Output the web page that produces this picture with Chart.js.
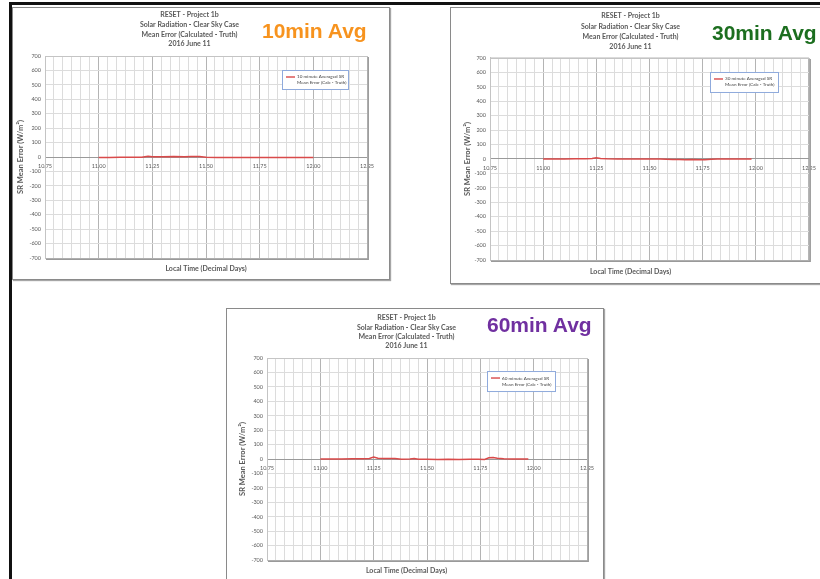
<!DOCTYPE html>
<html>
<head>
<meta charset="utf-8">
<title>SR Mean Error</title>
<script src="https://cdn.jsdelivr.net/npm/chart.js@4.4.1/dist/chart.umd.min.js"></script>
<style>
  html, body { margin: 0; padding: 0; background: #fff; }
  body { width: 820px; height: 579px; position: relative; overflow: hidden; }
  .bar { position: absolute; background: #111; }
  .panel { position: absolute; box-sizing: border-box; background: #fff;
           border: 1.5px solid #8a8a8a; box-shadow: 1px 1px 1px rgba(0,0,0,.35); }
  canvas { position: absolute; }
  .tag { position: absolute; font: bold 21px "Liberation Sans", Arial, sans-serif;
         line-height: 1; white-space: nowrap; }
</style>
</head>
<body>
<div class="bar" style="left:9px; top:2px; width:811px; height:2.5px"></div>
<div class="bar" style="left:9px; top:2px; width:2.5px; height:577px"></div>

<div class="panel" style="left:12px; top:7px; width:378px; height:273px"></div>
<div class="panel" style="left:450px; top:7px; width:380px; height:277px"></div>
<div class="panel" style="left:226px; top:308px; width:378px; height:290px"></div>

<canvas id="c10" width="377" height="272" style="left:12px; top:7px"></canvas>
<canvas id="c30" width="372" height="276" style="left:450px; top:7px"></canvas>
<canvas id="c60" width="377" height="271" style="left:226px; top:308px"></canvas>

<div class="tag" style="left:262px; top:20px; color:#f7931e">10min Avg</div>
<div class="tag" style="left:712px; top:22px; color:#1c6e1f">30min Avg</div>
<div class="tag" style="left:487px; top:314px; color:#7030a0">60min Avg</div>

<script>
// chart text
const titleLines = ["RESET - Project 1b", "Solar Radiation - Clear Sky Case",
                    "Mean Error (Calculated - Truth)", "2016 June 11"];
const xTitle = "Local Time (Decimal Days)";
const yTitle = "SR Mean Error (W/m\u00b2)";

// axis ranges (decimal days, W/m2)
const xMin = 10.75, xMax = 12.25, xMinor = 1 / 24;
const yMin = -700, yMax = 700, yMinor = 50;

// 10 minute averaged series
const time10 = [11.00, 11.05, 11.10, 11.15, 11.20, 11.23, 11.25, 11.30, 11.35, 11.40, 11.43, 11.47,
                11.50, 11.55, 11.60, 11.65, 11.70, 11.75, 11.80, 11.85, 11.90, 11.95, 12.00];
const err10  = [-3, -3, -2, -2, -1, 5, 2, 2, 3, 2, 4, 3,
                -2, -3, -3, -3, -3, -3, -3, -3, -3, -3, -3];

// 30 minute averaged series
const time30 = [11.00, 11.05, 11.10, 11.15, 11.20, 11.23, 11.25, 11.27, 11.30, 11.35, 11.40, 11.45,
                11.50, 11.55, 11.58, 11.61, 11.64, 11.67, 11.70, 11.73, 11.76, 11.79, 11.82, 11.86,
                11.90, 11.95, 11.98];
const err30  = [0, 0, 0, 1, 1, 3, 8, 3, 1, 0, 0, 0,
                0, 0, -2, -4, -3, -5, -3, -5, -6, -2, 0, 0,
                0, 0, 0];

// 60 minute averaged series
const time60 = [11.00, 11.05, 11.10, 11.15, 11.20, 11.23, 11.25, 11.27, 11.30, 11.35, 11.38, 11.42,
                11.44, 11.46, 11.50, 11.55, 11.60, 11.65, 11.70, 11.74, 11.77, 11.79, 11.81, 11.83,
                11.86, 11.90, 11.94, 11.975];
const err60  = [0, 0, 0, 1, 2, 4, 14, 5, 4, 3, -2, 0,
                4, -2, -2, -3, -2, -3, -2, -2, -3, 8, 10, 5,
                2, 0, 0, 0];

const fontFamily = 'Lato, "Open Sans", sans-serif';
const textGrey = "#595959";
const lineRed = "#d94a4a";

Chart.defaults.font.family = fontFamily;

function isMajorX(v) { return Math.abs(v * 4 - Math.round(v * 4)) < 1e-6; }

// grey frame round the plot area, with a little shadow on the right and bottom
const plotFrame = {
  id: "plotFrame",
  beforeDatasetsDraw(chart) {
    const {ctx, chartArea: a} = chart;
    ctx.save();
    ctx.strokeStyle = "#c4c4c4";
    ctx.lineWidth = 1;
    ctx.strokeRect(a.left + 0.5, a.top + 0.5, a.right - a.left, a.bottom - a.top);
    ctx.strokeStyle = "#9a9a9a";
    ctx.lineWidth = 1.5;
    ctx.beginPath();
    ctx.moveTo(a.right + 1.2, a.top + 1);
    ctx.lineTo(a.right + 1.2, a.bottom + 1.2);
    ctx.lineTo(a.left + 1, a.bottom + 1.2);
    ctx.stroke();
    ctx.restore();
  }
};

// small boxed legend inside the plot, with a two line label
const boxLegend = {
  id: "boxLegend",
  afterDatasetsDraw(chart, args, opts) {
    const {ctx, chartArea: a} = chart;
    const ds = chart.data.datasets[0];
    const x = a.left + opts.dx, y = a.top + opts.dy;
    ctx.save();
    ctx.fillStyle = "#fff";
    ctx.fillRect(x, y, opts.w, opts.h);
    ctx.strokeStyle = "#8faadc";
    ctx.lineWidth = 1;
    ctx.strokeRect(x + 0.5, y + 0.5, opts.w, opts.h);
    ctx.strokeStyle = ds.borderColor;
    ctx.lineWidth = 1.4;
    ctx.beginPath();
    ctx.moveTo(x + 4, y + 7);
    ctx.lineTo(x + 13, y + 7);
    ctx.stroke();
    ctx.fillStyle = "#404040";
    ctx.font = "4.6px " + fontFamily;
    ctx.textBaseline = "middle";
    ds.label.split("\n").forEach((t, i) => ctx.fillText(t, x + 15, y + 7 + i * 6));
    ctx.restore();
  }
};

function makeChart(id, xs, ys, label, g) {
  return new Chart(document.getElementById(id), {
    type: "line",
    data: {
      datasets: [{
        label: label,
        data: xs.map((x, i) => ({x: x, y: ys[i]})),
        borderColor: lineRed,
        borderWidth: 1.5,
        pointRadius: 0,
        tension: 0,
        fill: false
      }]
    },
    options: {
      responsive: false,
      animation: false,
      layout: {padding: {left: 0, right: g.padR, top: 0, bottom: 0}},
      plugins: {
        legend: {display: false},
        tooltip: {enabled: false},
        title: {
          display: true, text: titleLines, color: textGrey,
          font: {size: 7, weight: "bold", lineHeight: g.titleLH},
          padding: {top: g.titleTop, bottom: g.titleBottom}
        },
        subtitle: {
          display: true, position: "bottom", text: xTitle, color: textGrey,
          fullSize: g.xFull,
          font: {size: 7, weight: "bold", lineHeight: 1.2},
          padding: {top: g.subTop, bottom: g.subBottom}
        },
        boxLegend: g.legend
      },
      scales: {
        x: {
          type: "linear",
          position: {y: 0},
          min: xMin, max: xMax,
          ticks: {
            stepSize: xMinor, maxTicksLimit: 100, autoSkip: false,
            minRotation: 0, maxRotation: 0, padding: 6,
            color: textGrey, font: {size: 5.5},
            callback: v => isMajorX(v) ? v.toFixed(2) : ""
          },
          grid: {
            drawTicks: false,
            lineWidth: 1,
            color: c => isMajorX(c.tick.value) ? "#b4b4b4" : "#dcdcdc"
          },
          border: {display: true, color: "#9a9a9a", width: 1}
        },
        y: {
          min: yMin, max: yMax,
          ticks: {
            stepSize: yMinor, maxTicksLimit: 100, padding: 4,
            color: textGrey, font: {size: 5.5},
            callback: v => v % 100 === 0 ? v : ""
          },
          grid: {drawTicks: false, lineWidth: 1, color: "#dcdcdc"},
          border: {display: true, color: "#c4c4c4"},
          title: {
            display: true, text: yTitle, color: textGrey,
            font: {size: 7.5, weight: "bold", lineHeight: 1.2},
            padding: {top: g.yTitlePad, bottom: 0}
          },
          afterFit: s => { s.width = g.yWidth; }
        }
      }
    },
    plugins: [plotFrame, boxLegend]
  });
}

makeChart("c10", time10, err10, "10 minute Averaged SR\nMean Error (Calc - Truth)", {
  padR: 22, yWidth: 33, yTitlePad: 4.5,
  titleLH: 1.393, titleTop: 3.1, titleBottom: 6.9,
  subTop: 6.8, subBottom: 5.8, xFull: false,
  legend: {dx: 237, dy: 14, w: 66, h: 19}
});

makeChart("c30", time30, err30, "30 minute Averaged SR\nMean Error (Calc - Truth)", {
  padR: 11, yWidth: 40, yTitlePad: 13.5,
  titleLH: 1.471, titleTop: 3.85, titleBottom: 5.95,
  subTop: 7.8, subBottom: 6.8, xFull: true,
  legend: {dx: 220, dy: 14, w: 68, h: 20}
});

makeChart("c60", time60, err60, "60 minute Averaged SR\nMean Error (Calc - Truth)", {
  padR: 16, yWidth: 41, yTitlePad: 12.5,
  titleLH: 1.333, titleTop: 5.33, titleBottom: 7.37,
  subTop: 6.8, subBottom: 3.8, xFull: true,
  legend: {dx: 220, dy: 13, w: 68, h: 20}
});
</script>
</body>
</html>
